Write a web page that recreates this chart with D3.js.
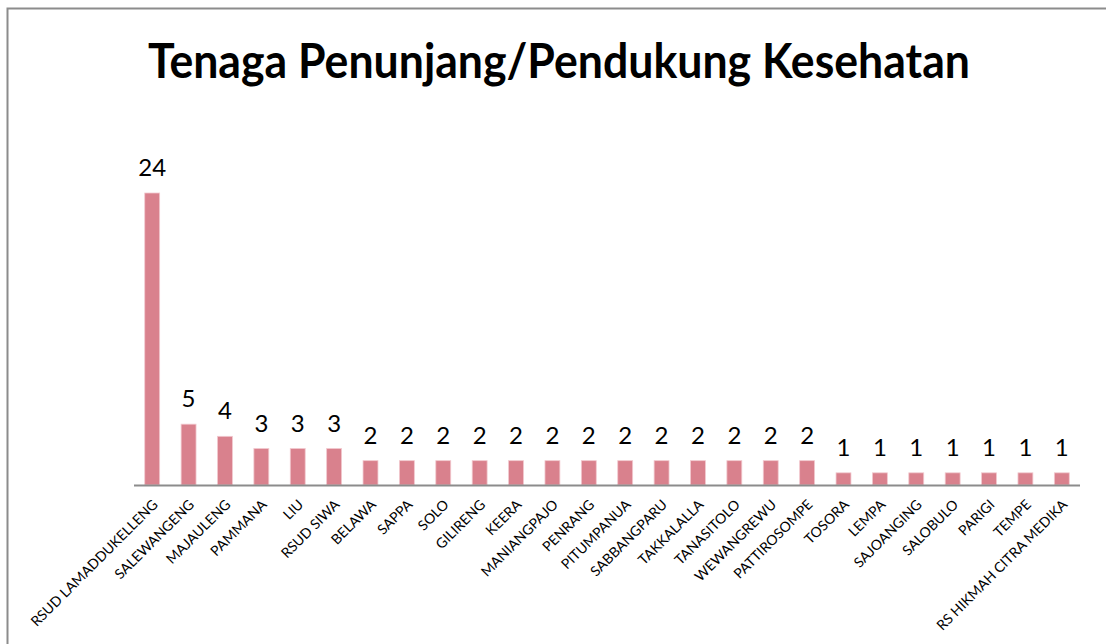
<!DOCTYPE html>
<html lang="en">
<head>
  <meta charset="UTF-8">
  <script src="https://d3js.org/d3.v7.min.js"></script>
  <title>Tenaga Penunjang/Pendukung Kesehatan</title>
  <style>
    body { margin: 0; background: #fff; }
    text { font-family: Lato, "Open Sans", sans-serif; fill: #000; }
    .title { font-weight: bold; font-size: 47px; }
    .value { font-size: 24px; }
    .cat { font-size: 14px; }
  </style>
</head>
<body>
  <svg></svg>
  <script>
    const WIDTH = 1106
    const HEIGHT = 644

    const categories = [
      'RSUD LAMADDUKELLENG', 'SALEWANGENG', 'MAJAULENG', 'PAMMANA', 'LIU',
      'RSUD SIWA', 'BELAWA', 'SAPPA', 'SOLO', 'GILIRENG', 'KEERA',
      'MANIANGPAJO', 'PENRANG', 'PITUMPANUA', 'SABBANGPARU', 'TAKKALALLA',
      'TANASITOLO', 'WEWANGREWU', 'PATTIROSOMPE', 'TOSORA', 'LEMPA',
      'SAJOANGING', 'SALOBULO', 'PARIGI', 'TEMPE', 'RS HIKMAH CITRA MEDIKA'
    ]
    const values = [24, 5, 4, 3, 3, 3, 2, 2, 2, 2, 2, 2, 2, 2, 2, 2, 2, 2, 2, 1, 1, 1, 1, 1, 1, 1]
    const title = 'Tenaga Penunjang/Pendukung Kesehatan'

    const svg = d3.select('svg')
      .attr('width', WIDTH)
      .attr('height', HEIGHT)

    // chart frame (only top and left edges are inside the window)
    svg.append('rect')
      .attr('x', 7.5)
      .attr('y', 8.5)
      .attr('width', WIDTH + 40)
      .attr('height', HEIGHT + 40)
      .attr('fill', 'none')
      .attr('stroke', '#8c8c8c')
      .attr('stroke-width', 2)

    svg.append('text')
      .attr('class', 'title')
      .attr('x', 559)
      .attr('y', 78)
      .attr('text-anchor', 'middle')
      .attr('textLength', 822)
      .attr('lengthAdjust', 'spacingAndGlyphs')
      .text(title)

    const x = d3.scaleBand()
      .domain(categories)
      .range([134, 1080])
      .paddingInner(0.59)
      .paddingOuter(0.295)

    const y = d3.scaleLinear()
      .domain([0, 24])
      .range([485, 193])

    svg.append('g')
      .selectAll('rect')
      .data(values)
      .enter().append('rect')
      .attr('x', (d, i) => x(categories[i]))
      .attr('y', (d) => y(d))
      .attr('width', x.bandwidth())
      .attr('height', (d) => y(0) - y(d))
      .attr('fill', '#d9818d')
      .attr('stroke', '#f2c9cf')
      .attr('stroke-width', 0.8)

    svg.append('line')
      .attr('x1', 134)
      .attr('x2', 1080)
      .attr('y1', y(0) + 0.5)
      .attr('y2', y(0) + 0.5)
      .attr('stroke', '#8c8c8c')
      .attr('stroke-width', 2)

    svg.append('g')
      .selectAll('text')
      .data(values)
      .enter().append('text')
      .attr('class', 'value')
      .attr('x', (d, i) => x(categories[i]) + x.bandwidth() / 2)
      .attr('y', (d) => y(d) - 17)
      .attr('text-anchor', 'middle')
      .text((d) => d)

    svg.append('g')
      .selectAll('text')
      .data(categories)
      .enter().append('text')
      .attr('class', 'cat')
      .attr('text-anchor', 'end')
      .attr('transform', (d) => `translate(${x(d) + x.bandwidth() / 2 + 3},${y(0) + 17}) rotate(-45)`)
      .attr('dy', '0.35em')
      .text((d) => d)
  </script>
</body>
</html>
